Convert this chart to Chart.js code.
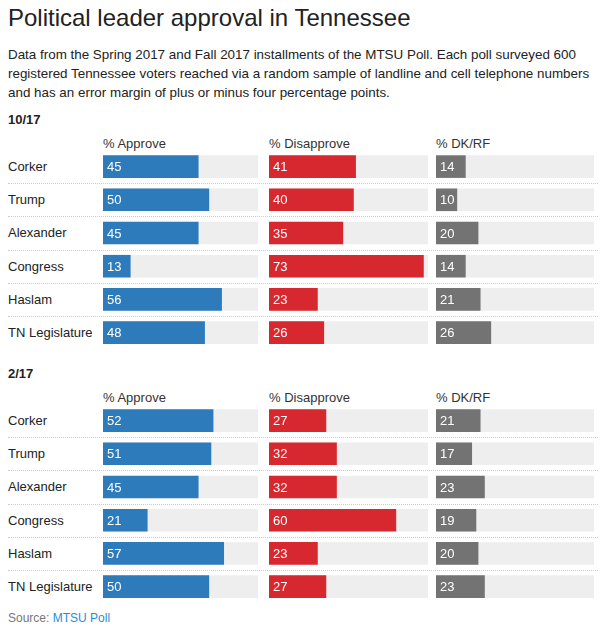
<!DOCTYPE html>
<html><head><meta charset="utf-8">
<script src="https://cdn.jsdelivr.net/npm/chart.js@4"></script>
<style>
body{margin:0;width:600px;height:636px;font-family:"Liberation Sans",Arial,sans-serif;color:#222;background:#fff;position:relative;overflow:hidden}
.abs{position:absolute}
h1{position:absolute;left:8px;top:4px;margin:0;font-weight:normal;font-size:24px;color:#222}
.desc{left:8px;top:45px;width:590px;font-size:13.4px;line-height:19px;color:#222}
.sec{font-weight:bold;font-size:13px;left:8px}
.hdr{font-size:13px;color:#333}
.name{font-size:13px;left:8px;color:#222}
.sep{left:8px;width:590px;border-top:1px dotted #ccc;height:0}
.src{left:8px;top:611px;font-size:12px;color:#777}
.src span{color:#2b8cd0}
</style></head><body>
<h1>Political leader approval in Tennessee</h1>
<div class="abs desc">Data from the Spring 2017 and Fall 2017 installments of the MTSU Poll. Each poll surveyed 600 registered Tennessee voters reached via a random sample of landline and cell telephone numbers and has an error margin of plus or minus four percentage points.</div>
<div class="abs src">Source: <span>MTSU Poll</span></div>
<script>
const names = ["Corker","Trump","Alexander","Congress","Haslam","TN Legislature"];
const columns = ["% Approve","% Disapprove","% DK/RF"];
const sections = ["10/17","2/17"];
const approveOct = [45,50,45,13,56,48];
const disapproveOct = [41,40,35,73,23,26];
const dkOct = [14,10,20,14,21,26];
const approveFeb = [52,51,45,21,57,50];
const disapproveFeb = [27,32,32,60,23,27];
const dkFeb = [21,17,23,19,20,23];
const trackMax = [73,75,74.5];
const colors = ["#2e7bbb","#d7282f","#737373"];

const data = [[approveOct,disapproveOct,dkOct],[approveFeb,disapproveFeb,dkFeb]];
const secTop = [112,366];
const colX = [103,269,436];
const colW = [155,159,158];
const pitch = 33.2;

const labelPlugin = {
  id:'lbl',
  afterDatasetsDraw(chart){
    const ctx = chart.ctx, meta = chart.getDatasetMeta(1);
    ctx.save();
    ctx.fillStyle='#fff';ctx.font='13px "Liberation Sans",Arial,sans-serif';
    ctx.textBaseline='middle';
    meta.data.forEach((b,i)=>{ctx.fillText(String(chart.data.datasets[1].data[i]), b.base+4, b.y+1);});
    ctx.restore();
  }
};

function add(cls, text, x, y, extra){
  const d=document.createElement('div');d.className='abs '+cls;d.textContent=text;
  d.style.top=y+'px'; if(x!=null) d.style.left=x+'px'; if(extra) Object.assign(d.style,extra);
  document.body.appendChild(d); return d;
}

sections.forEach((s,si)=>{
  const t=secTop[si];
  add('sec',s,null,t);
  const rowTop=t+38;
  columns.forEach((c,ci)=>add('hdr',c,colX[ci],t+24));
  names.forEach((n,ri)=>{
    add('name',n,null,rowTop+ri*pitch+9);
    if(ri<names.length-1) add('sep','',null,Math.round(rowTop+(ri+1)*pitch));
  });
  columns.forEach((c,ci)=>{
    const wrap=document.createElement('div');
    wrap.className='abs';
    Object.assign(wrap.style,{left:colX[ci]+'px',top:rowTop+'px',width:colW[ci]+'px',height:(pitch*6)+'px'});
    const cv=document.createElement('canvas');wrap.appendChild(cv);document.body.appendChild(wrap);
    new Chart(cv,{type:'bar',
      data:{labels:names,datasets:[
        {data:names.map(()=>trackMax[ci]),backgroundColor:'#eeeeee',grouped:false,order:2},
        {data:data[si][ci],backgroundColor:colors[ci],grouped:false,order:1}
      ]},
      options:{indexAxis:'y',responsive:true,maintainAspectRatio:false,animation:false,
        datasets:{bar:{categoryPercentage:1,barPercentage:0.68,borderWidth:0}},
        layout:{padding:0},
        plugins:{legend:{display:false},tooltip:{enabled:false}},
        scales:{x:{display:false,min:0,max:trackMax[ci]},y:{display:false}}},
      plugins:[labelPlugin]});
  });
});
</script>
</body></html>
